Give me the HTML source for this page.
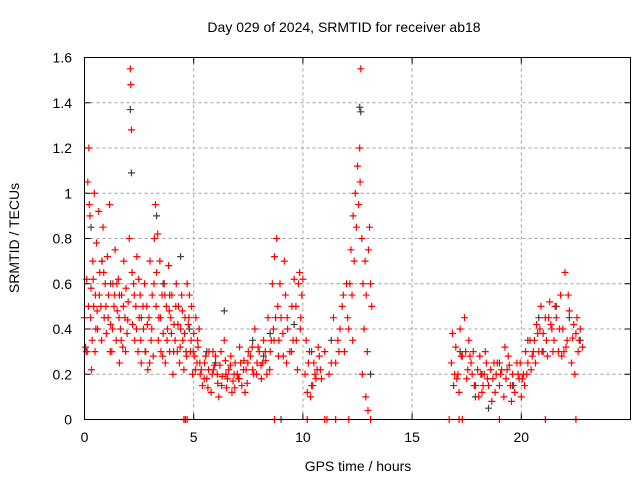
<!DOCTYPE html>
<html><head><meta charset="utf-8"><style>
html,body{margin:0;padding:0;background:#fff;}
svg{display:block;font-family:"Liberation Sans",sans-serif;}
</style></head><body>
<svg id="chart" width="640" height="480" viewBox="0 0 640 480" xmlns="http://www.w3.org/2000/svg">
<rect width="640" height="480" fill="#fff"/>
<text x="344" y="32" font-size="14" text-anchor="middle">Day 029 of 2024, SRMTID for receiver ab18</text>
<text x="358" y="471" font-size="14" text-anchor="middle">GPS time / hours</text>
<text transform="translate(19,238) rotate(-90)" font-size="14" text-anchor="middle">SRMTID / TECUs</text>
<g id="grid"></g>
<g id="ticks"></g>
<g id="gray"></g>
<g id="red"></g>
<rect x="84.5" y="57.5" width="546" height="362" fill="none" stroke="#000" stroke-width="1"/>
</svg>
<script>
const xTicks = [0,5,10,15,20];
const yTicks = [0,0.2,0.4,0.6,0.8,1,1.2,1.4,1.6];
const yTickLabels = ["0","0.2","0.4","0.6","0.8","1","1.2","1.4","1.6"];
const redT = [
0.0,0.05,0.1,0.15,0.2,0.25,0.3,0.35,0.4,0.45,
0.5,0.55,0.6,0.65,0.7,0.75,0.8,0.85,0.9,0.95,
1.0,1.05,1.1,1.15,1.2,1.25,1.3,1.35,1.4,1.45,
1.5,1.55,1.6,1.65,1.7,1.75,1.8,1.85,1.9,1.95,
2.0,2.05,2.1,2.12,2.15,2.18,2.2,2.25,2.3,2.35,
2.4,2.45,2.5,2.55,2.6,0.12,0.22,0.32,0.42,0.52,
2.7,2.75,2.8,2.85,2.9,2.95,3.0,3.05,3.1,3.15,
3.2,3.25,3.3,3.35,3.4,3.45,3.5,3.55,3.6,3.65,
3.7,3.75,3.8,3.85,3.9,3.95,4.0,4.05,4.1,4.15,
4.2,4.25,4.3,4.35,4.4,4.45,4.5,4.55,4.6,4.65,
4.7,4.75,4.8,4.85,4.9,4.95,5.0,5.05,5.1,5.15,
5.2,5.3,5.4,5.5,5.6,5.7,5.8,5.9,6.0,6.1,
6.2,6.3,6.4,6.5,6.6,6.7,6.8,6.9,7.0,7.1,
7.2,7.3,7.4,7.5,5.25,5.55,5.85,6.15,6.45,6.75,
7.05,7.35,5.35,5.65,5.95,6.25,6.55,6.85,7.15,7.45,
7.6,7.7,7.8,7.9,8.0,8.1,8.2,8.3,8.4,8.5,
8.6,8.7,8.8,8.85,8.9,9.0,9.1,9.2,9.3,9.4,
9.5,9.6,9.7,9.8,9.85,9.9,9.95,10.0,8.65,9.15,
7.75,7.95,8.15,8.35,8.55,8.75,8.95,9.25,9.55,9.75,
10.1,10.2,10.3,10.4,10.5,10.6,10.7,10.8,10.15,10.35,
10.55,10.75,11.0,11.2,11.4,11.6,11.8,11.9,12.0,12.1,
12.2,12.25,12.3,12.35,12.4,12.45,12.5,12.55,12.6,12.62,
12.65,12.7,12.75,12.8,12.85,12.9,12.95,13.0,13.05,13.1,
11.5,11.7,11.85,12.05,12.15,12.28,12.72,12.88,13.15,12.98,
16.8,16.9,17.0,17.1,17.2,17.3,17.4,17.5,17.6,17.7,
17.8,17.9,18.0,18.1,18.2,18.3,18.4,18.5,18.6,18.7,
18.8,18.9,19.0,16.85,17.15,17.45,17.75,18.05,18.35,18.65,
19.1,19.2,19.3,19.4,19.5,19.6,19.7,19.8,19.9,20.0,
20.1,20.2,20.3,20.4,20.5,19.25,19.55,19.85,20.15,20.45,
20.6,20.7,20.8,20.9,21.0,21.1,21.2,21.3,21.4,21.5,
21.6,21.7,21.8,21.9,22.0,22.1,22.2,22.3,22.4,22.5,
22.6,22.7,22.8,20.65,20.95,21.25,21.55,21.85,22.15,22.45,
4.55,4.62,4.7,8.7,10.2,11.0,11.1,11.5,12.1,13.1,
16.7,17.15,17.3,19.0,21.1,22.5
];
const redV = [
0.45,0.32,0.62,1.05,1.2,0.9,0.58,0.35,0.62,1.0,
0.55,0.78,0.4,0.92,0.65,0.5,0.7,0.85,0.45,0.6,
0.38,0.72,0.55,0.95,0.42,0.3,0.6,0.5,0.75,0.35,
0.48,0.62,0.25,0.4,0.55,0.32,0.7,0.45,0.58,0.38,
0.52,0.8,1.55,1.48,1.28,0.65,0.42,0.6,0.35,0.5,
0.72,0.3,0.45,0.55,0.25,0.3,0.95,0.22,0.5,0.4,
0.4,0.6,0.3,0.5,0.22,0.45,0.7,0.35,0.55,0.28,
0.8,0.95,0.65,0.82,0.45,0.7,0.3,0.55,0.38,0.6,
0.25,0.5,0.4,0.68,0.3,0.45,0.55,0.2,0.42,0.35,
0.6,0.3,0.5,0.25,0.4,0.55,0.35,0.22,0.45,0.3,
0.6,0.42,0.55,0.3,0.5,0.2,0.38,0.28,0.45,0.25,
0.32,0.2,0.15,0.25,0.18,0.3,0.12,0.22,0.28,0.16,
0.24,0.19,0.35,0.14,0.22,0.28,0.17,0.25,0.2,0.32,
0.15,0.26,0.22,0.3,0.4,0.28,0.2,0.1,0.26,0.12,
0.18,0.12,0.22,0.14,0.24,0.3,0.18,0.2,0.25,0.16,
0.28,0.22,0.4,0.25,0.3,0.18,0.35,0.26,0.45,0.3,
0.6,0.72,0.8,0.5,0.35,0.45,0.28,0.55,0.4,0.3,
0.5,0.62,0.35,0.6,0.65,0.45,0.55,0.62,0.4,0.7,
0.2,0.32,0.25,0.2,0.35,0.45,0.6,0.25,0.35,0.22,
0.2,0.12,0.3,0.15,0.25,0.18,0.32,0.22,0.35,0.1,
0.2,0.28,0.3,0.2,0.45,0.35,0.5,0.3,0.6,0.4,
0.75,0.55,0.9,0.7,1.0,0.85,1.12,0.95,1.2,1.05,
1.55,0.8,0.6,0.4,0.7,0.55,0.3,0.75,0.85,0.6,
0.25,0.4,0.55,0.45,0.6,0.35,0.2,0.1,0.5,0.04,
0.25,0.15,0.32,0.2,0.4,0.28,0.45,0.18,0.35,0.25,
0.3,0.15,0.22,0.28,0.12,0.2,0.25,0.15,0.22,0.18,
0.12,0.25,0.15,0.38,0.12,0.3,0.2,0.1,0.3,0.08,
0.22,0.1,0.18,0.28,0.15,0.2,0.12,0.25,0.18,0.1,
0.2,0.3,0.25,0.35,0.28,0.32,0.08,0.2,0.15,0.22,
0.35,0.42,0.3,0.5,0.38,0.45,0.28,0.52,0.4,0.35,
0.45,0.3,0.55,0.4,0.65,0.35,0.48,0.25,0.42,0.38,
0.3,0.4,0.32,0.25,0.3,0.45,0.5,0.28,0.55,0.2,
0,0,0,0,0,0,0,0,0,0,
0,0,0,0,0,0
];
const redT2 = [
0.08,0.18,0.28,0.38,0.48,0.58,0.68,0.78,0.88,0.98,
1.08,1.18,1.28,1.38,1.48,1.58,1.68,1.78,1.88,1.98,
2.28,2.38,2.48,2.58,2.68,2.78,2.88,2.98,3.08,3.18,
3.28,3.38,3.48,3.58,3.68,3.78,3.88,3.98,4.08,4.18,
4.28,4.38,4.48,4.58,4.68,4.78,4.88,4.98,5.08,5.18,
5.28,5.48,5.68,5.88,6.08,6.28,6.48,6.68,6.88,7.08,
7.28,7.48,7.68,7.88,8.08,8.28,8.48,8.68,8.88,9.08,
9.28,9.48,9.68,9.88,10.25,10.45,10.65,10.85,11.3,11.65,
16.95,17.25,17.55,17.85,18.15,18.45,18.75,19.05,19.35,19.65,
19.95,20.25,20.55,20.85,21.15,21.45,21.75,22.05,22.35,22.65,
17.05,17.65,18.25,18.85,19.45,20.05,20.75,21.35,21.95,22.55
];
const redV2 = [
0.3,0.5,0.45,0.7,0.3,0.48,0.55,0.35,0.65,0.5,
0.45,0.3,0.4,0.55,0.6,0.45,0.35,0.5,0.3,0.44,
0.55,0.4,0.62,0.35,0.5,0.3,0.42,0.25,0.4,0.6,
0.5,0.35,0.45,0.28,0.55,0.35,0.48,0.38,0.3,0.5,
0.42,0.32,0.48,0.38,0.28,0.45,0.35,0.3,0.22,0.35,
0.25,0.18,0.22,0.3,0.2,0.15,0.2,0.24,0.14,0.18,
0.22,0.25,0.32,0.2,0.24,0.3,0.22,0.35,0.28,0.38,
0.45,0.3,0.5,0.4,0.25,0.15,0.22,0.18,0.25,0.3,
0.2,0.28,0.22,0.15,0.2,0.18,0.25,0.2,0.22,0.15,
0.25,0.2,0.3,0.4,0.35,0.3,0.4,0.32,0.36,0.35,
0.18,0.28,0.15,0.2,0.24,0.18,0.38,0.42,0.3,0.45
];
const grayT = [0.3,0.8,1.2,2.1,2.15,2.6,3.3,3.9,4.4,4.8,5.6,6.4,7.0,7.7,8.2,9.0,9.6,10.4,11.3,12.6,12.65,13.1,17.2,17.9,18.5,19.0,19.6,20.3,21.0,21.6,22.2,22.7,1.6,3.6,6.0,8.5,18.2,20.8];
const grayV = [0.85,0.7,0.6,1.37,1.09,0.45,0.9,0.55,0.72,0.4,0.3,0.48,0.2,0.35,0.28,0,0.42,0.3,0.35,1.38,1.36,0.2,0.3,0.1,0.05,0.25,0.15,0.35,0.3,0.5,0.45,0.35,0.55,0.6,0.25,0.38,0.2,0.45];

const X0=84.5, X1=630.5, Y0=419.5, Y1=57.5, XMAX=25, YMAX=1.6;
const sx = t => X0 + (t/XMAX)*(X1-X0);
const sy = v => Y0 - (v/YMAX)*(Y0-Y1);
const NS = "http://www.w3.org/2000/svg";
function mk(tag, attrs, parent){ const e=document.createElementNS(NS,tag); for(const k in attrs) e.setAttribute(k,attrs[k]); parent.appendChild(e); return e; }
const grid=document.getElementById('grid'), ticks=document.getElementById('ticks');
xTicks.forEach(t=>{
  const x=sx(t);
  if(t>0){ const g=mk('line',{x1:x,x2:x,y1:Y0,y2:Y1,stroke:'#a0a0a0','stroke-dasharray':'3,3'},grid);
  
   }
  mk('line',{x1:x,x2:x,y1:Y0,y2:Y0-6,stroke:'#000'},ticks);
  mk('line',{x1:x,x2:x,y1:Y1,y2:Y1+6,stroke:'#000'},ticks);
  const lb=mk('text',{x:x,y:442,'font-size':14,'text-anchor':'middle'},ticks);
  lb.textContent=String(t);
  
  
});
yTicks.forEach((v,i)=>{
  const y=sy(v);
  if(v>0 && v<YMAX){ const g=mk('line',{x1:X0,x2:X1,y1:y,y2:y,stroke:'#a0a0a0','stroke-dasharray':'3,3'},grid);
  
   }
  mk('line',{x1:X0,x2:X0+6,y1:y,y2:y,stroke:'#000'},ticks);
  mk('line',{x1:X1,x2:X1-6,y1:y,y2:y,stroke:'#000'},ticks);
  const lb=mk('text',{x:72,y:y+5,'font-size':14,'text-anchor':'end'},ticks);
  lb.textContent=yTickLabels[i];
  
  
});
function plus(parent,t,v,color){
  const x=sx(t), y=sy(v);
  const p=mk('path',{d:`M${x-3.5},${y}H${x+3.5}M${x},${y-3.5}V${y+3.5}`,stroke:color,'stroke-width':1.2,fill:'none'},parent);
  
  
}
const gG=document.getElementById('gray'), gR=document.getElementById('red');
grayT.forEach((t,i)=>plus(gG,t,grayV[i],'#404040'));
redT.forEach((t,i)=>plus(gR,t,redV[i],'#ff0000'));
redT2.forEach((t,i)=>plus(gR,t,redV2[i],'#ff0000'));
</script>
</body></html>
